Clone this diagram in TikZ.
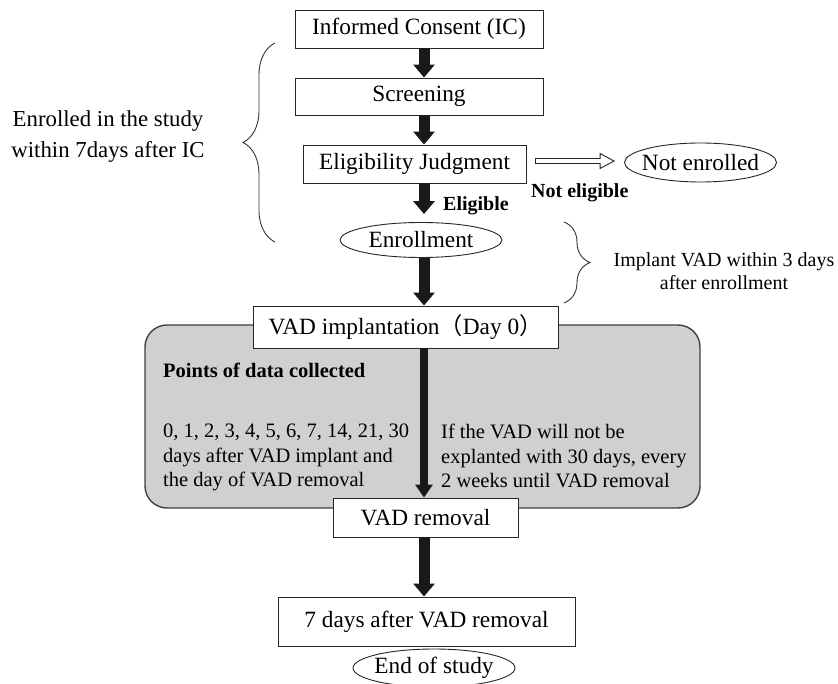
\documentclass[tikz,border=0pt]{standalone}
\usepackage{fontspec}
\setmainfont{Liberation Serif}
\newfontfamily\cjk{Noto Sans CJK JP}
\usetikzlibrary{arrows.meta,shapes.geometric,decorations.pathreplacing,calc}
\begin{document}
\begin{tikzpicture}[x=1pt,y=-1pt,
  box/.style={draw=black!85, line width=0.9pt, fill=white, inner sep=0pt, font=\fontsize{23.3}{28}\selectfont},
  oval/.style={ellipse, draw=black!85, line width=0.9pt, fill=white, inner sep=0pt, font=\fontsize{23.3}{28}\selectfont},
  panel/.style={draw=black!75, line width=1.4pt, fill=gray!37, rounded corners=22pt, inner sep=0pt},
  bigarrow/.style={draw=black!90, line width=11pt, -{Triangle[length=13pt,width=21pt]}},
  midarrow/.style={draw=black!90, line width=7.5pt, -{Triangle[length=13pt,width=17pt]}},
  bracestyle/.style={draw=black!80, line width=0.9pt, decorate},
  note/.style={inner sep=0pt, font=\fontsize{20.5}{24.5}\selectfont, align=left},
  boldnote/.style={inner sep=0pt, font=\fontsize{20}{24}\selectfont\bfseries},
]
\useasboundingbox (0,0) rectangle (838,684);
\clip (0,0) rectangle (838,684);
\coordinate (colx) at (424,0);

\node[panel, minimum width=555pt, minimum height=183pt] (panel) at (422.5,416.5) {};

\node[box, minimum width=248pt, minimum height=38pt] (ic) at (419,29) {Informed Consent (IC)};
\node[box, minimum width=248pt, minimum height=37pt] (scr) at (419,96.5) {Screening};
\node[box, minimum width=223pt, minimum height=38pt] (elig) at (414.5,164) {Eligibility Judgment};
\node[oval, minimum width=152pt, minimum height=39pt] (notenr) at (700.5,162.5) {\makebox[0pt][c]{Not enrolled}};
\node[oval, minimum width=162pt, minimum height=35pt] (enr) at (421,240) {\makebox[0pt][c]{Enrollment}};
\node[box, minimum width=305pt, minimum height=42pt] (vad) at (405.5,327) {VAD implantation{\cjk （}Day 0{\cjk ）}};
\node[box, minimum width=185pt, minimum height=39pt] (rem) at (425.5,517.5) {VAD removal};
\node[box, minimum width=297pt, minimum height=49pt] (seven) at (426.5,621.5) {7 days after VAD removal};
\node[oval, minimum width=162pt, minimum height=38pt] (endst) at (434,668) {\makebox[0pt][c]{End of study}};

% arrows
\draw[bigarrow] (ic.south -| colx) -- (scr.north -| colx);
\draw[bigarrow] (scr.south -| colx) -- (elig.north -| colx);
\draw[bigarrow, shorten >=8pt] (elig.south -| colx) -- (enr.north -| colx);
\draw[bigarrow] (enr.south -| colx) -- (vad.north -| colx);
\draw[midarrow] (vad.south -| colx) -- (rem.north -| colx);
\draw[bigarrow] (rem.south -| colx) -- (seven.north -| colx);

% hollow arrow
\coordinate (ha) at ($(elig.east)+(9,-3)$);
\coordinate (hb) at ($(notenr.west)+(-10,-1.5)$);
\draw[draw=black!85, line width=0.9pt, fill=white]
  ($(ha)+(0,-2.5)$) -- ($(hb)+(-14,-2.5)$) -- ($(hb)+(-14,-7.5)$) -- (hb)
  -- ($(hb)+(-14,7.5)$) -- ($(hb)+(-14,2.5)$) -- ($(ha)+(0,2.5)$) -- cycle;

% braces
\draw[bracestyle, decoration={brace, amplitude=32pt}] (275,242) -- (275,43);
\draw[bracestyle, decoration={brace, amplitude=26pt}] (564,222) -- (564,303);

% texts
\node[inner sep=0pt, font=\fontsize{22.8}{31}\selectfont, align=center] (enrtext) at (108,137) {Enrolled in the study\\within 7days after IC};
\node[inner sep=0pt, font=\fontsize{20}{23}\selectfont, align=center] (impltext) at (724,271.5) {Implant VAD within 3 days\\after enrollment};
\node[boldnote, anchor=base west] (eliglbl) at (443,211) {Eligible};
\node[boldnote, anchor=base west] (noteliglbl) at (531,198) {Not eligible};
\node[boldnote, font=\fontsize{20.5}{24}\selectfont\bfseries, anchor=base west] (points) at (163,378) {Points of data collected};
\node[note, anchor=north west] (lefttext) at (163,424) {0, 1, 2, 3, 4, 5, 6, 7, 14, 21, 30\\days after VAD implant and\\the day of VAD removal};
\node[note, anchor=north west] (righttext) at (441,424) {If the VAD will not be\\explanted with 30 days, every\\2 weeks until VAD removal};
\end{tikzpicture}
\end{document}
